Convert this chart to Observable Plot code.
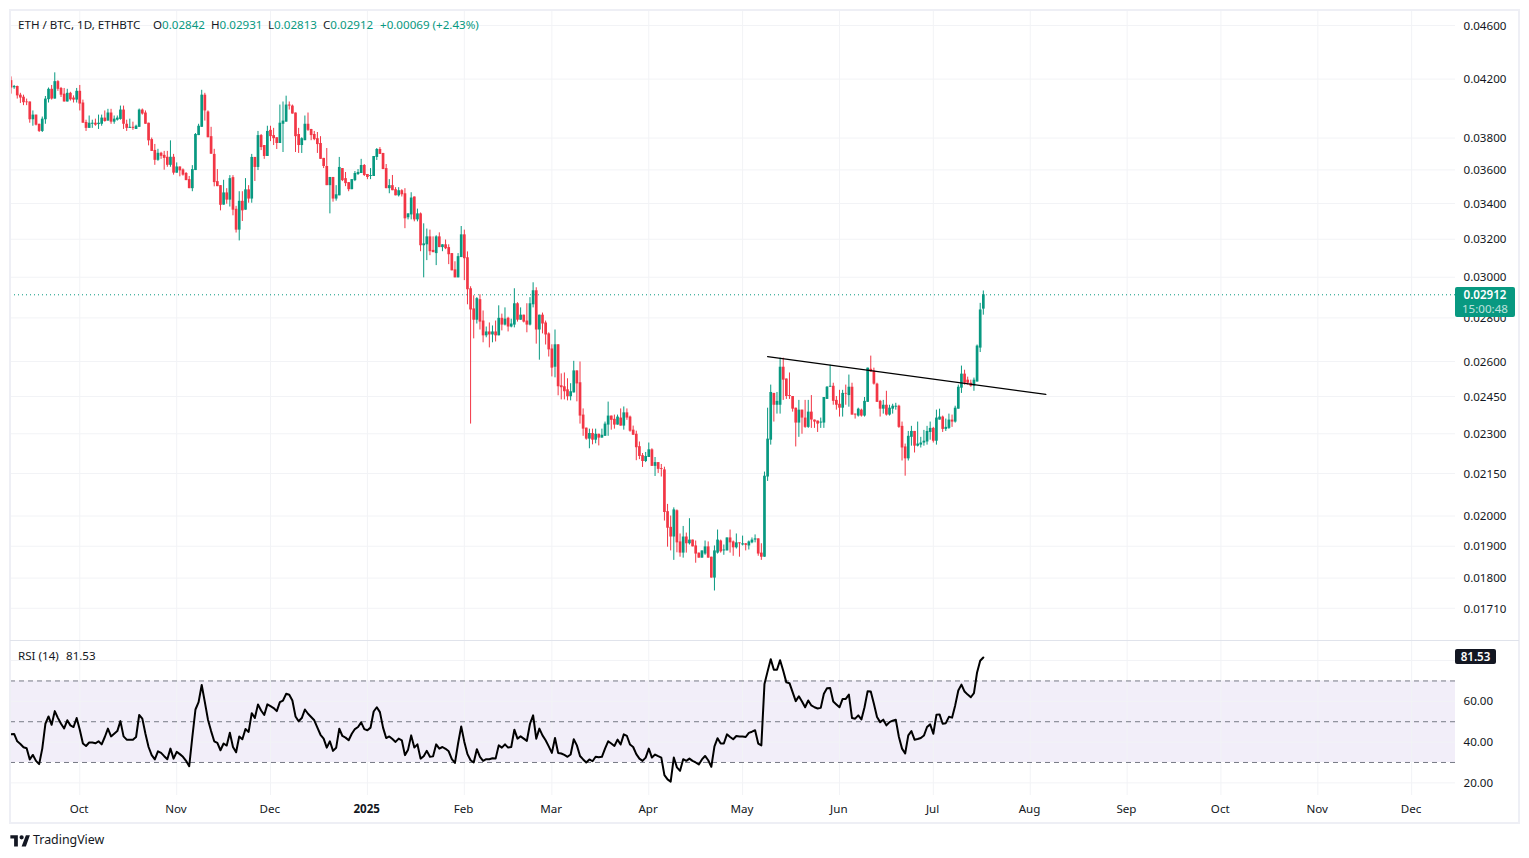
<!DOCTYPE html>
<html>
<head>
<meta charset="utf-8">
<script src="https://cdn.jsdelivr.net/npm/d3@7"></script>
<script src="https://cdn.jsdelivr.net/npm/@observablehq/plot@0.6"></script>
<style>
html,body{margin:0;padding:0;background:#fff;width:1529px;height:858px;overflow:hidden}
body{position:relative;font-family:"Noto Sans",sans-serif;font-size:11.6px;color:#131722}
.frame{position:absolute;left:9px;top:9px;width:1511px;height:815px;box-sizing:border-box;border:2px solid #eeeff5;pointer-events:none}
.sep{position:absolute;left:10px;top:640px;width:1509px;height:1px;background:#e0e3eb}
.t{position:absolute;white-space:pre;line-height:14px}
.g{color:#089981}
.last{position:absolute;left:1455px;top:287px;width:60px;height:30px;background:#089981;border-radius:2px;color:#fff;text-align:center;line-height:14px;padding-top:1px;box-sizing:border-box}
.last b{display:block;font-weight:600}
.last span{display:block;opacity:.72}
.rsiv{position:absolute;left:1455px;top:649px;width:41px;height:15px;background:#131722;border-radius:2px;color:#fff;text-align:center;line-height:15px;font-weight:600}
</style>
</head>
<body>
<div id="price"></div>
<div id="rsi"></div>
<div class="frame"></div>
<div class="sep"></div>
<div class="t" style="left:18px;top:18px">ETH / BTC, 1D, ETHBTC</div>
<div class="t" style="left:153px;top:18px">O<span class="g">0.02842</span></div>
<div class="t" style="left:211px;top:18px">H<span class="g">0.02931</span></div>
<div class="t" style="left:268px;top:18px">L<span class="g">0.02813</span></div>
<div class="t" style="left:323px;top:18px">C<span class="g">0.02912</span></div>
<div class="t g" style="left:380px;top:18px">+0.00069 (+2.43%)</div>
<div class="t" style="left:18px;top:649px">RSI (14)</div>
<div class="t" style="left:66px;top:649px">81.53</div>
<div class="last"><b>0.02912</b><span>15:00:48</span></div>
<div class="rsiv">81.53</div>
<svg style="position:absolute;left:10px;top:832px" width="20" height="15" viewBox="0 0 36 28"><path fill="#131722" d="M14 6H0v6h7v15h7V6Zm15 21h-8L29 6h7.5L29 27Zm-8-13a4 4 0 1 0 0-8 4 4 0 0 0 0 8Z"/></svg>
<div class="t" style="left:33px;top:833px;font-size:12.4px">TradingView</div>

<script>
// Prices are in units of 0.00001 BTC
const opens = [
4189,4139,4148,4087,4073,4040,4040,3920,3951,3890,
3843,3920,4056,4128,4060,4182,4134,4094,4040,4100,
4067,4053,4114,4033,3902,3863,3890,3897,3888,3890,
3931,3911,3965,3904,3917,3922,3985,3890,3863,3870,
3856,3870,3985,3965,3897,3790,3721,3659,3703,3690,
3678,3628,3678,3580,3618,3600,3578,3541,3487,3596,
3816,3870,4087,3972,3809,3696,3529,3505,3391,3462,
3420,3553,3367,3250,3413,3362,3480,3426,3677,3615,
3816,3752,3683,3850,3816,3802,3765,3890,3904,4019,
4012,3965,3823,3752,3783,3890,3856,3823,3796,3765,
3671,3621,3505,3554,3426,3445,3608,3547,3523,3481,
3535,3572,3578,3627,3572,3560,3560,3677,3727,3702,
3608,3487,3505,3481,3445,3475,3457,3319,3335,3438,
3307,3341,3165,3170,3213,3140,3123,3213,3155,3170,
3155,3123,3038,2997,3102,3224,3101,2942,2843,2789,
2888,2785,2716,2734,2720,2734,2716,2798,2766,2798,
2757,2766,2868,2789,2813,2785,2766,2863,2932,2743,
2813,2776,2725,2656,2575,2675,2495,2491,2478,2449,
2465,2559,2508,2374,2322,2279,2301,2275,2298,2283,
2290,2334,2370,2357,2334,2362,2330,2383,2366,2314,
2298,2250,2216,2194,2209,2238,2176,2190,2168,2163,
2015,1962,1930,2018,1914,1878,1930,1908,1920,1901,
1878,1862,1875,1898,1865,1800,1878,1917,1885,1885,
1927,1914,1895,1911,1904,1908,1901,1911,1920,1924,
1878,1865,2137,2275,2463,2414,2414,2575,2524,2454,
2450,2402,2342,2394,2362,2325,2386,2354,2350,2342,
2342,2438,2489,2493,2434,2418,2402,2463,2454,2489,
2378,2370,2394,2370,2426,2566,2558,2502,2430,2398,
2414,2374,2398,2406,2410,2329,2249,2204,2286,2309,
2252,2256,2264,2268,2305,2321,2271,2354,2366,2317,
2321,2354,2346,2398,2485,2545,2519,2506,2493,2511,
2660,2842];
const closes = [
4137,4148,4082,4067,4035,4035,3920,3951,3884,3843,
3924,4060,4128,4060,4182,4128,4087,4040,4100,4055,
4053,4114,4026,3897,3863,3897,3897,3884,3897,3931,
3908,3965,3904,3924,3931,3985,3890,3863,3870,3863,
3877,3985,3958,3890,3782,3715,3659,3703,3684,3671,
3628,3678,3580,3618,3594,3568,3535,3487,3602,3823,
3877,4087,3979,3802,3697,3523,3499,3390,3462,3420,
3547,3362,3250,3413,3358,3480,3426,3677,3615,3816,
3739,3683,3843,3809,3796,3765,3897,3911,4019,4012,
3958,3809,3752,3796,3890,3850,3816,3790,3758,3665,
3621,3505,3554,3426,3451,3615,3535,3517,3481,3541,
3578,3584,3627,3566,3554,3566,3683,3727,3696,3602,
3487,3505,3475,3445,3475,3451,3313,3341,3432,3307,
3341,3165,3175,3213,3133,3128,3213,3155,3170,3149,
3117,3033,2997,3107,3224,3096,2937,2838,2789,2893,
2780,2716,2734,2720,2734,2716,2798,2766,2794,2757,
2771,2868,2789,2813,2780,2766,2868,2932,2743,2813,
2771,2720,2652,2571,2675,2491,2487,2470,2449,2470,
2559,2503,2370,2318,2279,2301,2275,2298,2283,2294,
2338,2370,2353,2334,2366,2330,2383,2362,2310,2294,
2246,2213,2194,2213,2238,2176,2190,2165,2165,2012,
1959,1930,2021,1911,1878,1930,1908,1920,1898,1875,
1862,1885,1898,1862,1800,1885,1920,1882,1888,1927,
1911,1895,1911,1908,1908,1903,1914,1920,1924,1875,
1865,2140,2279,2467,2414,2430,2575,2519,2450,2450,
2398,2342,2394,2362,2325,2386,2354,2346,2338,2346,
2446,2489,2493,2430,2414,2402,2463,2460,2489,2374,
2374,2398,2370,2430,2571,2554,2502,2426,2398,2414,
2374,2402,2410,2410,2325,2245,2204,2290,2309,2252,
2260,2264,2271,2309,2321,2271,2362,2366,2317,2325,
2354,2346,2402,2489,2545,2506,2506,2493,2519,2669,
2838,2912];
const highs = [
4216,4155,4150,4100,4087,4060,4040,3979,3951,3890,
3938,4078,4137,4155,4245,4189,4141,4134,4128,4107,
4082,4134,4155,4053,3917,3945,3917,3924,3951,3951,
3979,3990,3990,3945,3945,4012,4012,3917,3924,3904,
3884,3992,3992,3979,3897,3800,3759,3728,3709,3715,
3715,3782,3696,3643,3618,3606,3584,3560,3626,3829,
3890,4121,4100,3979,3870,3728,3602,3505,3537,3487,
3565,3565,3384,3469,3469,3547,3505,3696,3677,3843,
3823,3752,3877,3877,3863,3802,4019,4040,4080,4040,
4019,3965,3863,3802,3945,3965,3856,3843,3836,3809,
3671,3733,3554,3554,3505,3677,3608,3584,3523,3541,
3590,3602,3665,3633,3572,3608,3683,3733,3739,3702,
3633,3541,3566,3493,3493,3481,3487,3341,3463,3438,
3368,3346,3285,3256,3250,3213,3219,3235,3170,3196,
3170,3123,3080,3123,3270,3250,3132,2952,2907,2898,
2912,2833,2757,2776,2762,2785,2858,2818,2848,2803,
2794,2942,2873,2848,2813,2868,2898,2972,2947,2813,
2823,2785,2730,2675,2743,2675,2546,2550,2525,2504,
2601,2559,2598,2399,2322,2318,2318,2318,2298,2318,
2346,2427,2370,2374,2374,2399,2407,2399,2370,2330,
2310,2268,2224,2228,2264,2242,2209,2190,2183,2173,
2040,2000,2028,2021,1940,1965,1943,1991,1920,1917,
1878,1885,1917,1914,1865,1901,1953,1920,1904,1927,
1953,1917,1940,1911,1933,1908,1917,1927,1937,1924,
1908,2155,2402,2498,2463,2467,2615,2615,2524,2550,
2450,2402,2434,2394,2434,2434,2454,2354,2350,2362,
2446,2492,2584,2506,2450,2476,2476,2498,2541,2506,
2378,2402,2398,2446,2571,2624,2571,2506,2434,2434,
2472,2414,2418,2422,2414,2346,2260,2309,2329,2309,
2346,2286,2313,2329,2346,2325,2394,2398,2370,2358,
2378,2374,2410,2498,2580,2562,2532,2519,2528,2674,
2870,2931];
const lows = [
4094,4128,4060,4030,4015,4015,3897,3877,3879,3836,
3836,3890,4033,4053,4060,4114,4071,4040,4040,4046,
4033,4033,3979,3897,3843,3863,3863,3877,3856,3877,
3904,3911,3890,3890,3911,3917,3856,3843,3863,3850,
3856,3870,3951,3890,3750,3715,3628,3653,3665,3598,
3616,3616,3568,3580,3558,3562,3535,3487,3469,3596,
3816,3870,3911,3802,3697,3498,3499,3358,3391,3396,
3380,3330,3234,3191,3298,3362,3402,3402,3530,3596,
3720,3665,3683,3777,3752,3727,3765,3708,3904,3985,
3958,3708,3702,3702,3783,3843,3783,3783,3702,3665,
3608,3505,3341,3408,3414,3445,3529,3499,3469,3481,
3529,3566,3578,3560,3541,3541,3560,3658,3696,3602,
3487,3457,3475,3445,3438,3438,3258,3307,3307,3296,
3296,3133,2997,3086,3112,3128,3060,3155,3133,3144,
3065,3033,2997,2997,3102,2983,2863,2338,2702,2771,
2743,2684,2707,2661,2684,2688,2716,2739,2762,2734,
2753,2753,2780,2789,2776,2730,2762,2848,2678,2606,
2725,2674,2620,2533,2529,2453,2436,2436,2432,2432,
2465,2428,2338,2290,2275,2242,2257,2261,2253,2283,
2290,2290,2314,2318,2334,2330,2314,2353,2306,2294,
2197,2201,2172,2190,2209,2176,2139,2150,2137,1983,
1897,1885,1855,1879,1865,1862,1878,1904,1898,1846,
1862,1862,1871,1862,1800,1761,1875,1878,1871,1885,
1878,1868,1891,1865,1901,1885,1888,1908,1911,1868,
1855,1865,2121,2256,2346,2378,2378,2434,2438,2438,
2386,2249,2286,2298,2321,2321,2321,2321,2305,2321,
2321,2438,2489,2414,2394,2366,2366,2414,2406,2374,
2358,2366,2366,2366,2426,2554,2498,2426,2366,2378,
2370,2370,2378,2394,2321,2196,2140,2196,2252,2226,
2249,2245,2252,2256,2275,2264,2256,2354,2305,2309,
2317,2325,2342,2398,2463,2498,2498,2489,2472,2511,
2640,2813];
const rsiValues = [
43.8,44.0,40.4,39.1,37.5,37.0,31.5,33.7,30.8,29.2,
36.8,49.0,52.6,48.5,55.2,51.9,49.0,46.7,50.7,48.2,
47.4,51.8,46.1,39.3,38.1,39.8,39.8,39.4,40.4,38.9,
42.5,46.6,42.8,44.1,45.4,50.3,42.8,41.2,41.2,41.2,
42.5,53.3,51.5,44.1,37.6,33.6,31.5,35.5,34.7,33.1,
31.6,36.8,31.9,35.2,34.1,32.8,30.8,28.2,42.5,56.0,
59.6,68.0,59.6,51.0,45.4,40.4,39.6,36.0,39.3,38.3,
44.6,37.6,35.0,42.8,41.4,46.4,45.0,54.2,51.8,58.5,
55.5,53.3,58.5,57.6,56.7,55.2,59.6,60.4,63.7,63.2,
60.4,52.6,50.2,51.8,56.0,53.9,52.3,50.7,47.1,43.6,
41.7,37.3,40.4,35.7,37.2,46.6,43.0,42.2,40.9,44.1,
46.4,47.4,49.7,46.4,45.8,47.1,55.0,57.1,54.7,47.1,
42.0,42.8,41.5,40.1,41.7,40.9,33.6,36.3,43.3,37.3,
38.9,31.9,33.1,35.7,32.8,33.0,38.9,36.8,37.6,36.7,
35.5,31.6,29.8,39.3,47.7,40.1,34.1,31.1,30.0,36.5,
32.8,30.8,31.6,31.6,32.1,31.9,38.4,37.3,38.9,37.3,
37.6,46.1,41.7,42.8,41.7,40.6,49.0,53.1,41.7,46.6,
43.3,40.9,37.9,34.7,42.0,34.7,34.4,33.7,32.8,33.9,
41.4,38.4,33.2,31.5,30.0,31.5,30.6,32.8,32.6,32.8,
36.8,40.4,39.3,38.1,41.2,38.8,43.8,43.0,38.8,37.6,
34.1,31.9,30.8,32.4,36.8,32.4,33.9,33.1,32.4,23.8,
21.7,20.6,32.4,27.6,25.9,31.6,30.8,31.9,30.8,30.0,
29.0,31.5,33.2,31.1,27.9,37.9,41.9,39.3,39.3,43.8,
42.5,41.4,43.0,42.8,42.7,42.5,44.5,45.1,45.8,39.3,
38.4,68.5,74.7,80.7,75.5,75.5,80.2,75.0,69.3,68.9,
64.5,60.1,62.5,59.9,57.1,60.4,58.0,57.1,56.5,56.8,
63.7,66.4,66.6,59.9,58.5,57.1,61.2,61.2,63.3,51.8,
51.5,53.1,51.1,57.1,65.0,64.8,58.8,52.3,49.8,51.0,
48.2,49.8,50.5,51.0,42.5,36.8,34.4,43.3,45.4,41.2,
41.5,42.0,43.2,47.4,48.7,44.1,53.4,53.6,49.0,49.3,
52.4,52.0,58.0,65.3,68.2,64.8,63.3,62.0,64.0,74.2,
79.9,81.53];
const firstDay = "2024-09-09";
const priceTicks = [0.046,0.042,0.038,0.036,0.034,0.032,0.03,0.028,0.026,0.0245,0.023,0.0215,0.02,0.019,0.018,0.0171];
const monthStarts = ["2024-10-01","2024-11-01","2024-12-01","2025-01-01","2025-02-01","2025-03-01","2025-04-01","2025-05-01","2025-06-01","2025-07-01","2025-08-01","2025-09-01","2025-10-01","2025-11-01","2025-12-01"];
const monthLabels = ["Oct","Nov","Dec","2025","Feb","Mar","Apr","May","Jun","Jul","Aug","Sep","Oct","Nov","Dec"];
const rsiGrid = [80,60,40,20];
const rsiTicks = [60,40,20];
const rsiLevels = [70,50,30];
const trendDays = ["2025-05-09","2025-08-06"];
const trendPrices = [0.02622,0.02459];
const lastPrice = 0.02912;
const xDomain = [new Date("2024-09-08T20:08Z"), new Date("2025-12-15T00:40Z")];
const priceDomain = [0.01619,0.04719];
const rsiDomain = [13.8,89.85];

const UP = "#089981", DOWN = "#F23645", GRID = "#f2f3f6", INK = "#131722";
const FONT = '"Noto Sans",sans-serif';
const day0 = new Date(firstDay + "T00:00Z");
const candles = opens.map((o,i)=>({date:d3.utcDay.offset(day0,i),open:o/1e5,close:closes[i]/1e5,high:highs[i]/1e5,low:lows[i]/1e5}));
const rsi = rsiValues.map((v,i)=>({date:d3.utcDay.offset(day0,i),v}));
const months = monthStarts.map(s=>new Date(s+"T00:00Z"));
const trend = trendDays.map((s,i)=>({date:new Date(s+"T00:00Z"),p:trendPrices[i]}));
const isUp = d=>d.close>=d.open;
const isDown = d=>d.close<d.open;

const base = {width:1509,marginLeft:0,marginRight:64,marginTop:0};

const pricePlot = Plot.plot({
  ...base, height:630, marginBottom:0,
  style:{position:"absolute",left:"10px",top:"10px",background:"transparent",fontFamily:FONT,fontSize:"11.6px",color:INK,overflow:"visible"},
  x:{type:"utc",domain:xDomain},
  y:{type:"log",domain:priceDomain},
  marks:[
    Plot.ruleX(months,{stroke:GRID,strokeWidth:1}),
    Plot.ruleY(priceTicks,{stroke:GRID,strokeWidth:1}),
    Plot.ruleY([lastPrice],{stroke:UP,strokeWidth:1,strokeDasharray:"1,3"}),
    Plot.ruleX(candles,{filter:isUp,x:"date",y1:"low",y2:"high",stroke:UP,strokeWidth:1}),
    Plot.ruleX(candles,{filter:isDown,x:"date",y1:"low",y2:"high",stroke:DOWN,strokeWidth:1}),
    Plot.ruleX(candles,{filter:isUp,x:"date",y1:"open",y2:"close",stroke:UP,strokeWidth:2.7}),
    Plot.ruleX(candles,{filter:isDown,x:"date",y1:"open",y2:"close",stroke:DOWN,strokeWidth:2.7}),
    Plot.line(trend,{x:"date",y:"p",stroke:"#000",strokeWidth:1.2}),
    Plot.axisY({anchor:"right",ticks:priceTicks,tickFormat:d3.format(".5f"),tickSize:0,tickPadding:8,label:null,fill:INK,fontSize:11.6,dy:0.5}),
    Plot.axisX({ticks:[],label:null})
  ]
});
document.getElementById("price").append(pricePlot);

const label = d=>monthLabels[months.findIndex(m=>+m===+d)];
const rsiPlot = Plot.plot({
  ...base, height:183, marginBottom:28,
  style:{position:"absolute",left:"10px",top:"640px",background:"transparent",fontFamily:FONT,fontSize:"11.6px",color:INK,overflow:"visible"},
  x:{type:"utc",domain:xDomain},
  y:{domain:rsiDomain},
  marks:[
    Plot.rectY([0],{x1:()=>xDomain[0],x2:()=>xDomain[1],y1:rsiLevels[2],y2:rsiLevels[0],fill:"#7e57c2",fillOpacity:0.1}),
    Plot.ruleX(months,{stroke:GRID,strokeWidth:1}),
    Plot.ruleY(rsiGrid,{stroke:GRID,strokeWidth:1}),
    Plot.ruleY(rsiLevels,{stroke:"#787B86",strokeWidth:1,strokeDasharray:"5,4"}),
    Plot.line(rsi,{x:"date",y:"v",stroke:"#000",strokeWidth:2}),
    Plot.axisY({anchor:"right",ticks:rsiTicks,tickFormat:d3.format(".2f"),tickSize:0,tickPadding:8,label:null,fill:INK,fontSize:11.6}),
    Plot.axisX({ticks:months.filter(m=>label(m)!=="2025"),tickFormat:label,tickSize:0,tickPadding:9,label:null,fill:INK,fontSize:11.6,dx:-0.7}),
    Plot.axisX({ticks:months.filter(m=>label(m)==="2025"),tickFormat:label,tickSize:0,tickPadding:9,label:null,fill:INK,fontSize:11.6,fontWeight:"bold",dx:-0.7})
  ]
});
document.getElementById("rsi").append(rsiPlot);
</script>
</body>
</html>
